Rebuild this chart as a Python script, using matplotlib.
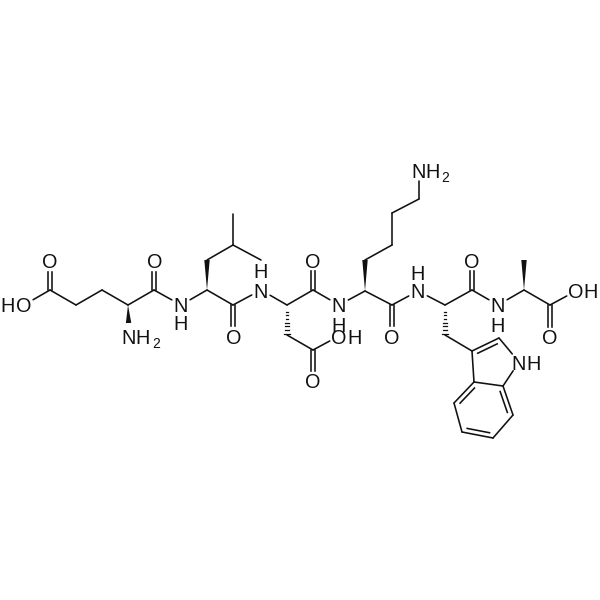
import numpy as np
import matplotlib
matplotlib.use('Agg')
import matplotlib.pyplot as plt

plt.rcParams['font.family'] = ['Liberation Sans', 'DejaVu Sans']

# atom positions (pixels), name: (x, y)
atoms = {
    'glu_o1': (50, 261), 'glu_cd': (50, 290), 'glu_oh': (24, 305), 'glu_cg': (76, 305),
    'glu_cb': (102, 290), 'glu_ca': (128, 305), 'glu_n': (129, 336), 'glu_c': (154, 290),
    'glu_o': (154, 261), 'leu_n': (181, 305), 'leu_ca': (207, 290), 'leu_cb': (207, 260),
    'leu_cg': (233, 245), 'leu_d1': (233, 214), 'leu_d2': (261, 260), 'leu_c': (233, 305),
    'leu_o': (233, 336), 'asp_n': (261, 290), 'asp_ca': (287, 305), 'asp_c': (313, 290),
    'asp_o': (313, 260), 'asp_cb': (287, 335), 'asp_cg': (313, 350), 'asp_oh': (339, 336),
    'asp_o2': (313, 381), 'lys_n': (339, 305), 'lys_ca': (365, 291), 'lys_cb': (365, 260),
    'lys_cg': (392, 245), 'lys_cd': (392, 213), 'lys_ce': (419, 199), 'lys_nz': (419, 170),
    'lys_c': (392, 305), 'lys_o': (392, 336), 'trp_n': (418, 291), 'trp_ca': (445, 305),
    'trp_c': (472, 290), 'trp_o': (472, 260), 'trp_cb': (445, 335), 'trp_cg': (472, 351),
    'trp_cd': (499, 338), 'trp_ne': (519, 362), 'trp_c7a': (503, 386), 'trp_c3a': (474, 382),
    'trp_c4': (454, 403), 'trp_c5': (462, 432), 'trp_c6': (493, 438), 'trp_c7': (513, 415),
    'ala_n': (498, 305), 'ala_ca': (524, 290), 'ala_cb': (524, 260), 'ala_c': (550, 305),
    'ala_o': (550, 337), 'ala_oh': (576, 291),
}

single_bonds = [
    ('glu_cd', 'glu_oh'), ('glu_cd', 'glu_cg'), ('glu_cg', 'glu_cb'), ('glu_cb', 'glu_ca'),
    ('glu_ca', 'glu_c'), ('glu_c', 'leu_n'), ('leu_n', 'leu_ca'), ('leu_ca', 'leu_c'),
    ('leu_cb', 'leu_cg'), ('leu_cg', 'leu_d1'), ('leu_cg', 'leu_d2'), ('leu_c', 'asp_n'),
    ('asp_n', 'asp_ca'), ('asp_ca', 'asp_c'), ('asp_c', 'lys_n'), ('asp_cb', 'asp_cg'),
    ('asp_cg', 'asp_oh'), ('lys_n', 'lys_ca'), ('lys_ca', 'lys_c'), ('lys_cb', 'lys_cg'),
    ('lys_cg', 'lys_cd'), ('lys_cd', 'lys_ce'), ('lys_ce', 'lys_nz'), ('lys_c', 'trp_n'),
    ('trp_n', 'trp_ca'), ('trp_ca', 'trp_c'), ('trp_c', 'ala_n'), ('ala_n', 'ala_ca'),
    ('ala_ca', 'ala_c'), ('ala_c', 'ala_oh'), ('trp_cb', 'trp_cg'), ('trp_cg', 'trp_c3a'),
    ('trp_cd', 'trp_ne'), ('trp_ne', 'trp_c7a'), ('trp_c7a', 'trp_c3a'), ('trp_c4', 'trp_c5'),
    ('trp_c6', 'trp_c7'),
]
# carbonyls, two lines either side of the bond
double_bonds = [
    ('glu_cd', 'glu_o1'), ('glu_c', 'glu_o'), ('leu_c', 'leu_o'), ('asp_c', 'asp_o'),
    ('asp_cg', 'asp_o2'), ('lys_c', 'lys_o'), ('trp_c', 'trp_o'), ('ala_c', 'ala_o'),
]
# ring doubles, the second line sits inside the ring
ring_doubles = [
    ('trp_cg', 'trp_cd'), ('trp_c3a', 'trp_c4'), ('trp_c5', 'trp_c6'), ('trp_c7', 'trp_c7a'),
]
ring_centres = {'trp_cg': (491, 362), 'trp_c3a': (484, 409), 'trp_c5': (484, 409), 'trp_c7': (484, 409)}
wedges = [('glu_ca', 'glu_n'), ('leu_ca', 'leu_cb'), ('lys_ca', 'lys_cb'), ('ala_ca', 'ala_cb')]
hashes = [('asp_ca', 'asp_cb'), ('trp_ca', 'trp_cb')]

# atoms with a label, bonds stop short of these
labelled = ['glu_o1', 'glu_oh', 'glu_n', 'glu_o', 'leu_n', 'leu_o', 'asp_n', 'asp_o', 'asp_oh',
            'asp_o2', 'lys_n', 'lys_nz', 'lys_o', 'trp_n', 'trp_o', 'trp_ne', 'ala_n', 'ala_o', 'ala_oh']

labels = [
    ('O', 50, 261), ('H', 8, 305), ('O', 24, 305), ('N', 129, 336), ('H', 143, 336),
    ('O', 155, 261), ('N', 181, 305), ('H', 181, 323), ('O', 234, 336), ('N', 261, 290),
    ('H', 261, 271), ('O', 313, 260), ('N', 339, 305), ('H', 339, 324), ('O', 339, 336),
    ('H', 355, 336), ('O', 313, 381), ('N', 419, 170), ('H', 433, 170), ('O', 392, 336),
    ('N', 418, 291), ('H', 418, 272), ('O', 472, 260), ('N', 498, 305), ('H', 498, 324),
    ('N', 519, 362), ('H', 534, 362), ('O', 550, 337), ('O', 576, 291), ('H', 591, 291),
]
subscripts = [('2', 156, 343), ('2', 445, 176)]

ink = '#111111'
lw = 1.15


def ends(a, b, r=10.5):
    p = np.array(atoms[a], float)
    q = np.array(atoms[b], float)
    u = (q - p) / np.hypot(*(q - p))
    if a in labelled:
        p = p + u * r
    if b in labelled:
        q = q - u * r
    return p, q, u


fig = plt.figure(figsize=(6, 6), dpi=100)
ax = fig.add_axes([0, 0, 1, 1])
ax.set_xlim(0, 600)
ax.set_ylim(600, 0)
ax.axis('off')

for a, b in single_bonds:
    p, q, u = ends(a, b)
    ax.plot([p[0], q[0]], [p[1], q[1]], c=ink, lw=lw, solid_capstyle='round')

for a, b in double_bonds:
    p, q, u = ends(a, b)
    n = np.array([-u[1], u[0]])
    for s in (-2.2, 2.2):
        ax.plot([p[0]+n[0]*s, q[0]+n[0]*s], [p[1]+n[1]*s, q[1]+n[1]*s], c=ink, lw=lw)

for a, b in ring_doubles:
    p, q, u = ends(a, b)
    ax.plot([p[0], q[0]], [p[1], q[1]], c=ink, lw=lw, solid_capstyle='round')
    n = np.array([-u[1], u[0]])
    if np.dot(n, np.array(ring_centres[a]) - p) < 0:
        n = -n
    ln = np.hypot(*(q - p))
    p2 = p + n*4.5 + u*ln*0.14
    q2 = q + n*4.5 - u*ln*0.14
    ax.plot([p2[0], q2[0]], [p2[1], q2[1]], c=ink, lw=lw)

for a, b in wedges:
    p, q, u = ends(a, b, r=13)
    n = np.array([-u[1], u[0]])
    pts = np.array([p, q + n*2.7, q - n*2.7])
    ax.fill(pts[:, 0], pts[:, 1], c=ink, lw=0)

for a, b in hashes:
    p, q, u = ends(a, b)
    n = np.array([-u[1], u[0]])
    for f in np.linspace(0.1, 0.95, 8):
        c = p + (q - p)*f
        w = 2.8*f
        ax.plot([c[0]-n[0]*w, c[0]+n[0]*w], [c[1]-n[1]*w, c[1]+n[1]*w], c=ink, lw=0.9)

for t, x, y in labels:
    ax.text(x, y, t, ha='center', va='center_baseline', fontsize=14.3, color=ink)
for t, x, y in subscripts:
    ax.text(x, y, t, ha='center', va='center_baseline', fontsize=10, color=ink)

fig.savefig('out.png', dpi=100)
